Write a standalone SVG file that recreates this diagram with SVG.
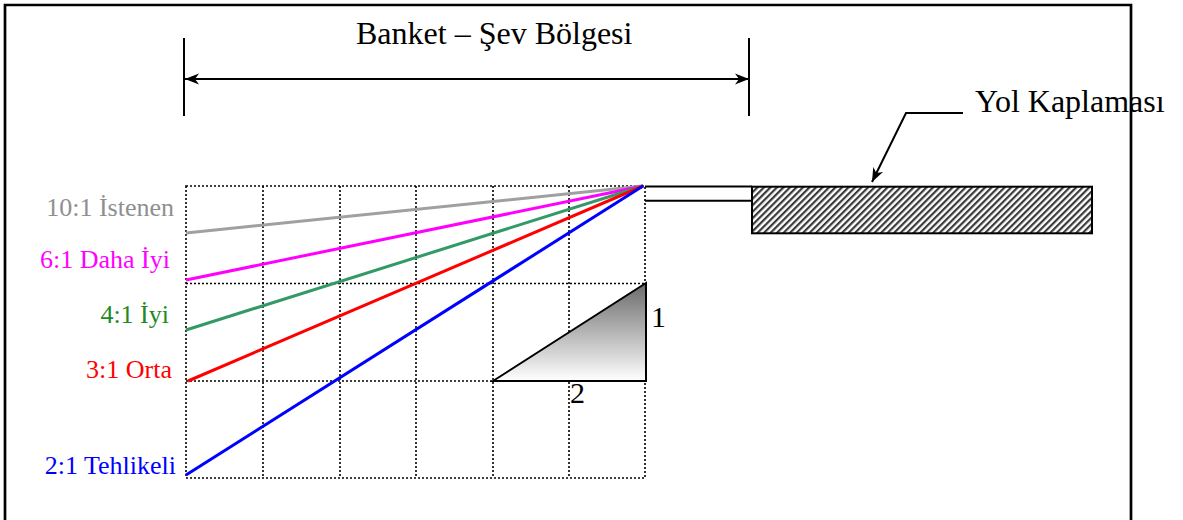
<svg xmlns="http://www.w3.org/2000/svg" width="1183" height="520" viewBox="0 0 1183 520">
<style>
.t{font-family:"Liberation Serif","Times New Roman",serif;}
.big{font-size:32px;fill:#000;}
.lbl{font-size:26px;text-anchor:end;}
.grid{stroke:#000;stroke-width:1.6;stroke-dasharray:2 2;fill:none;}
.blk{stroke:#000;fill:none;stroke-width:2;}
.slope{stroke-width:3;fill:none;stroke-linecap:butt;}
</style>
<defs>
<marker id="arr" markerUnits="userSpaceOnUse" markerWidth="16" markerHeight="12" viewBox="0 -6 16 12" refX="14" refY="0" orient="auto-start-reverse">
<path d="M14,0 L0,-5.5 L4,0 L0,5.5 Z" fill="#000"/>
</marker>
<pattern id="hatch" patternUnits="userSpaceOnUse" width="4.6" height="4.6" patternTransform="rotate(45)">
<rect width="4.6" height="4.6" fill="#fff"/>
<rect x="0" y="0" width="2.2" height="4.6" fill="#3a3a3a"/>
</pattern>
<linearGradient id="tri" x1="0" y1="0" x2="0" y2="1">
<stop offset="0" stop-color="#6a6a6a"/>
<stop offset="1" stop-color="#ffffff"/>
</linearGradient>
</defs>

<g id="frame" stroke="#000" stroke-width="2.7" fill="none">
<path d="M5,520 L5,5 L1131,5 L1131,520"/>
</g>

<g id="title">
<text class="t big" x="356" y="44">Banket – Şev Bölgesi</text>
</g>

<g id="grid">
<rect class="grid" x="186" y="186" width="459" height="292"/>
<path class="grid" d="M263,186V478 M340,186V478 M416,186V478 M493,186V478 M569,186V478 M186,283.5H645 M186,381H645"/>
</g>

<g id="triangle">
<path d="M493,381 L646,283 L646,381 Z" fill="url(#tri)" stroke="#000" stroke-width="2"/>
<text class="t" x="651" y="327" font-size="30">1</text>
<text class="t" x="570" y="403" font-size="30">2</text>
</g>

<g id="slopes">
<line class="slope" x1="643" y1="186" x2="186" y2="233" stroke="#a0a0a0"/>
<line class="slope" x1="643" y1="186" x2="186" y2="280" stroke="#ff00ff"/>
<line class="slope" x1="643" y1="186" x2="186" y2="330" stroke="#339966"/>
<line class="slope" x1="643" y1="186" x2="188" y2="381" stroke="#ff0000"/>
<line class="slope" x1="643" y1="186" x2="186" y2="475" stroke="#0000ff"/>
</g>

<g id="labels">
<text class="t lbl" x="174" y="216" fill="#8f8f8f">10:1 İstenen</text>
<text class="t lbl" x="170" y="268" fill="#ff00ff">6:1 Daha İyi</text>
<text class="t lbl" x="169" y="323" fill="#1f8a1f">4:1 İyi</text>
<text class="t lbl" x="172" y="378" fill="#ff0000">3:1 Orta</text>
<text class="t lbl" x="176" y="474" fill="#0000ff">2:1 Tehlikeli</text>
</g>

<g id="shoulder">
<path class="blk" d="M645,186.5 H752 M645,200.7 H752"/>
</g>

<g id="pavement">
<rect x="752" y="186.7" width="340" height="46.6" fill="url(#hatch)" stroke="#000" stroke-width="2"/>
</g>

<g id="pavement-label">
<text class="t big" x="975" y="112">Yol Kaplaması</text>
</g>

<g id="connectors">
<path class="blk" d="M184,38 V116 M749,38 V116"/>
<line class="blk" x1="185" y1="79" x2="749" y2="79" marker-start="url(#arr)" marker-end="url(#arr)"/>
<path class="blk" d="M963,113 H906 L872,182" marker-end="url(#arr)"/>
</g>
</svg>
